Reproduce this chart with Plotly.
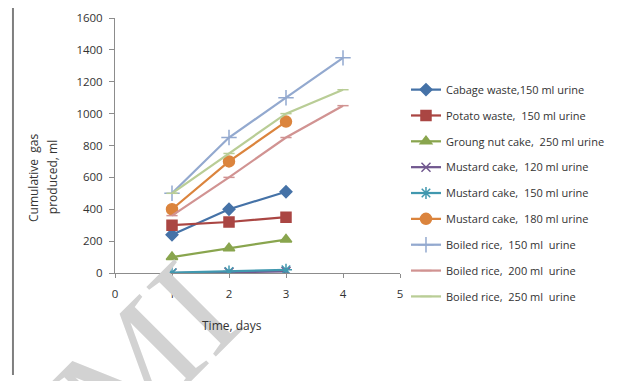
import plotly.graph_objects as go

days3 = [1, 2, 3]
days4 = [1, 2, 3, 4]

cabbage = [240, 400, 510]
potato = [300, 320, 350]
groundnut = [100, 155, 210]
mustard120 = [0, 5, 10]
mustard150 = [2, 10, 20]
mustard180 = [400, 700, 950]
rice150 = [500, 850, 1100, 1350]
rice200 = [360, 600, 850, 1050]
rice250 = [500, 750, 1000, 1150]

names = [
    "Cabage waste,150 ml urine",
    "Potato waste,  150 ml urine",
    "Groung nut cake,  250 ml urine",
    "Mustard cake,  120 ml urine",
    "Mustard cake,  150 ml urine",
    "Mustard cake,  180 ml urine",
    "Boiled rice,  150 ml  urine",
    "Boiled rice,  200 ml  urine",
    "Boiled rice,  250 ml  urine",
]

series = [
    (days3, cabbage, "#4572A7", "diamond", 9),
    (days3, potato, "#AA4643", "square", 10),
    (days3, groundnut, "#89A54E", "triangle-up", 10),
    (days3, mustard120, "#71588F", "x-thin", 9),
    (days3, mustard150, "#4198AF", "asterisk", 10),
    (days3, mustard180, "#DB843D", "circle", 11),
    (days4, rice150, "#93A9CF", "cross-thin", 11),
    (days4, rice200, "#D19392", "line-ew", 8),
    (days4, rice250, "#B9CD96", "line-ew", 8),
]

fig = go.Figure()
for i, ((x, y, c, sym, sz), nm) in enumerate(zip(series, names)):
    fig.add_trace(go.Scatter(
        x=x, y=y, name=nm, mode="lines+markers", legendgroup=f"g{i}",
        line=dict(color=c, width=2.25),
        marker=dict(symbol=sym, size=sz, color=c,
                    line=dict(color=c, width=1.5)),
    ))

font = "'Open Sans', sans-serif"

fig.update_layout(
    width=619, height=381,
    margin=dict(l=107, r=227, t=10, b=116, autoexpand=False),
    paper_bgcolor="white", plot_bgcolor="white",
    font=dict(family=font, size=12, color="#333333"),
    showlegend=True,
    legend=dict(x=1.021, y=0.776, xanchor="left", yanchor="top",
                font=dict(size=11, color="#333333"),
                itemwidth=30, tracegroupgap=6.85,
                bgcolor="rgba(0,0,0,0)"),
    xaxis=dict(range=[0, 5], dtick=1, showgrid=False, zeroline=False,
               showline=True, linecolor="#8C8C8C", linewidth=1,
               ticks="outside", ticklen=4, tickcolor="#8C8C8C",
               ticklabelstandoff=6, tickfont=dict(size=11.5),
               automargin=False, fixedrange=True),
    yaxis=dict(range=[0, 1600], dtick=200, showgrid=False, zeroline=False,
               showline=True, linecolor="#8C8C8C", linewidth=1,
               ticks="outside", ticklen=5, tickcolor="#8C8C8C",
               ticklabelstandoff=4, tickfont=dict(size=11.5),
               automargin=False, fixedrange=True),
    annotations=[
        dict(text="MI", xref="paper", yref="paper",
             x=0.109, y=-0.318, xanchor="center", yanchor="middle",
             showarrow=False, textangle=-45,
             font=dict(size=150, color="#D2D2D2",
                       family="'Liberation Serif', serif")),
        dict(text="Cumulative  gas", xref="paper", yref="paper",
             x=-0.288, y=0.376, xanchor="center", yanchor="middle",
             showarrow=False, textangle=-90,
             font=dict(size=12, color="#333333")),
        dict(text="produced, ml", xref="paper", yref="paper",
             x=-0.221, y=0.376, xanchor="center", yanchor="middle",
             showarrow=False, textangle=-90,
             font=dict(size=12, color="#333333")),
        dict(text="Time, days", xref="paper", yref="paper",
             x=0.41, y=-0.204, xanchor="center", yanchor="middle",
             showarrow=False,
             font=dict(size=12, color="#333333")),
    ],
    shapes=[
        dict(type="line", xref="paper", yref="paper",
             x0=-0.358, x1=-0.358, y0=1.06, y1=-0.4,
             line=dict(color="#7F7F7F", width=2)),
    ],
)

fig.write_html("out.html")
